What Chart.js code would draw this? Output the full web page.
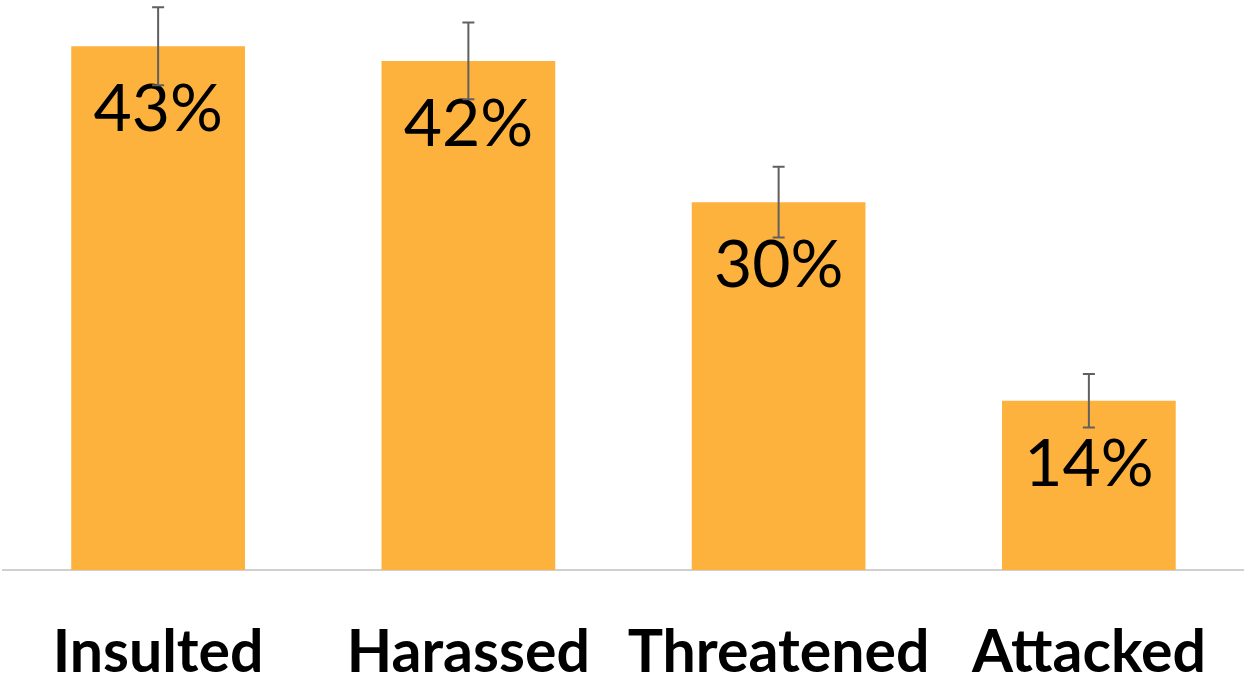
<!DOCTYPE html>
<html>
<head>
<meta charset="utf-8">
<script src="https://cdn.jsdelivr.net/npm/chart.js@4.4.1/dist/chart.umd.min.js"></script>
<style>
  html, body { margin: 0; padding: 0; background: #fff; overflow: hidden; }
</style>
</head>
<body>
<canvas id="barChart" width="1244" height="681"></canvas>
<script>
const categories = ['Insulted', 'Harassed', 'Threatened', 'Attacked'];
const shares = [43, 41.8, 30.2, 13.9];
const errors = [3.2, 3.15, 2.9, 2.2];

// error bars + value labels, drawn from the bar elements / y scale
const errorBarsAndLabels = {
    id: 'errorBarsAndLabels',
    afterDatasetsDraw(chart) {
        const ctx = chart.ctx;
        const y = chart.scales.y;
        const meta = chart.getDatasetMeta(0);
        ctx.save();
        meta.data.forEach(function(bar, i) {
            const v = shares[i];
            // label
            ctx.fillStyle = '#000';
            ctx.font = '66px Lato';
            ctx.textAlign = 'center';
            ctx.textBaseline = 'alphabetic';
            ctx.fillText(Math.round(v) + '%', bar.x, bar.y + 85);
            // error bar
            const top = y.getPixelForValue(v + errors[i]);
            const bot = y.getPixelForValue(v - errors[i]);
            ctx.strokeStyle = '#606060';
            ctx.lineWidth = 2;
            ctx.beginPath();
            ctx.moveTo(bar.x, top); ctx.lineTo(bar.x, bot);
            ctx.moveTo(bar.x - 6, top); ctx.lineTo(bar.x + 6, top);
            ctx.moveTo(bar.x - 6, bot); ctx.lineTo(bar.x + 6, bot);
            ctx.stroke();
        });
        ctx.restore();
    }
};

new Chart(document.getElementById('barChart').getContext('2d'), {
    type: 'bar',
    data: {
        labels: categories,
        datasets: [{
            data: shares,
            backgroundColor: '#FEB23E',
            categoryPercentage: 1,
            barPercentage: 0.56
        }]
    },
    options: {
        responsive: false,
        animation: false,
        devicePixelRatio: 1,
        layout: { padding: { left: 3, right: 0, top: 0, bottom: -54 } },
        plugins: { legend: { display: false }, tooltip: { enabled: false } },
        scales: {
            x: {
                grid: { display: false, drawTicks: false },
                border: { display: true, color: '#d0d0d0', width: 2 },
                ticks: {
                    color: '#000',
                    padding: 30,
                    font: { family: 'Lato', size: 59, weight: 'bold', lineHeight: 1.78 }
                }
            },
            y: {
                display: false,
                min: 0,
                max: 46.8
            }
        }
    },
    plugins: [errorBarsAndLabels]
});
</script>
</body>
</html>
